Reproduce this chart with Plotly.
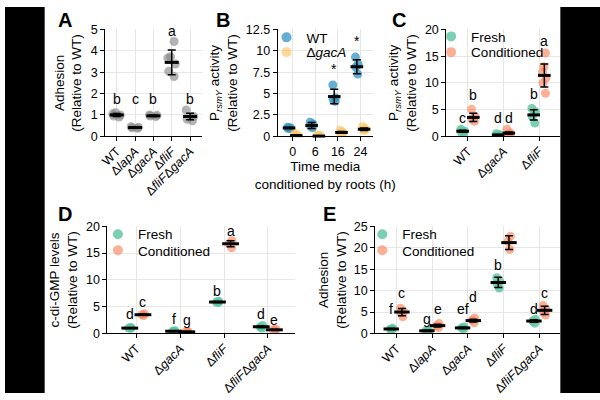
import plotly.graph_objects as go

# ---------------- data ----------------
A_labels = ["WT", "Δ<i>lapA</i>", "Δ<i>gacA</i>", "Δ<i>fliF</i>", "Δ<i>fliF</i>Δ<i>gacA</i>"]
A_points = [[1.1, 1.05, 1.0, 0.95, 0.9], [0.45, 0.42, 0.4, 0.38], [1.0, 0.98, 0.95, 0.92],
            [4.44, 3.72, 3.67, 3.38, 3.05, 2.8], [1.23, 0.93, 0.8, 0.73]]
A_mean = [1.0, 0.41, 0.96, 3.46, 0.93]
A_err = [0.07, 0.03, 0.03, 0.58, 0.15]
A_letters = ["b", "c", "b", "a", "b"]
A_letter_y = [1.76, 1.76, 1.76, 4.92, 1.76]

B_labels = ["0", "6", "16", "24"]
B_wt_points = [[1.05, 1.0, 0.95, 0.9], [1.65, 1.45, 1.2, 1.0], [6.0, 4.5, 4.3, 4.1], [9.27, 8.4, 8.1, 7.28]]
B_wt_mean = [0.98, 1.26, 4.65, 8.14]
B_wt_err = [0.06, 0.35, 0.85, 0.82]
B_gac_points = [[0.35, 0.15, 0.1, 0.05], [0.15, 0.1, 0.05, 0.02], [0.7, 0.5, 0.4, 0.35], [1.15, 0.9, 0.75, 0.7]]
B_gac_mean = [0.08, 0.03, 0.45, 0.83]
B_gac_err = [0.08, 0.03, 0.1, 0.15]
B_sig = ["", "", "*", "*"]
B_sig_y = [0, 0, 7.9, 11.1]

C_labels = ["WT", "Δ<i>gacA</i>", "Δ<i>fliF</i>"]
C_fresh_points = [[1.3, 1.0, 0.8, 0.6], [0.5, 0.3, 0.2, 0.15], [5.2, 4.6, 3.7, 2.5]]
C_fresh_mean = [0.95, 0.25, 4.0]
C_fresh_err = [0.2, 0.1, 0.95]
C_cond_points = [[5.05, 3.72, 3.24, 2.8], [1.3, 0.6, 0.4, 0.3], [15.6, 13.0, 12.0, 10.9, 10.0, 8.05]]
C_cond_mean = [3.54, 0.6, 11.4]
C_cond_err = [0.78, 0.2, 2.15]
C_fresh_letters = ["c", "d", "b"]
C_fresh_letter_y = [3.42, 3.42, 7.9]
C_cond_letters = ["b", "d", "a"]
C_cond_letter_y = [7.8, 3.42, 17.8]

D_labels = ["WT", "Δ<i>gacA</i>", "Δ<i>fliF</i>", "Δ<i>fliF</i>Δ<i>gacA</i>"]
D_fresh_points = [[1.1, 1.0, 0.95], [0.5, 0.4, 0.35], [6.0, 5.85, 5.75], [1.5, 1.2, 1.0]]
D_fresh_mean = [1.0, 0.42, 5.87, 1.25]
D_fresh_err = [0.05, 0.05, 0.1, 0.15]
D_cond_points = [[3.7, 3.5, 3.35], [0.35, 0.3, 0.25], [17.3, 16.8, 16.0], [0.8, 0.7, 0.55]]
D_cond_mean = [3.5, 0.3, 16.75, 0.68]
D_cond_err = [0.1, 0.05, 0.55, 0.08]
D_fresh_letters = ["d", "f", "b", "d"]
D_fresh_letter_y = [3.6, 2.7, 7.9, 3.6]
D_cond_letters = ["c", "g", "a", "e"]
D_cond_letter_y = [5.9, 2.5, 19.2, 2.5]

E_labels = ["WT", "Δ<i>lapA</i>", "Δ<i>gacA</i>", "Δ<i>fliF</i>", "Δ<i>fliF</i>Δ<i>gacA</i>"]
E_fresh_points = [[1.2, 1.0, 0.9], [0.8, 0.6, 0.5], [1.5, 1.3, 1.1], [13.0, 12.2, 11.5, 10.6], [3.3, 2.9, 2.4]]
E_fresh_mean = [1.05, 0.62, 1.3, 11.9, 2.9]
E_fresh_err = [0.12, 0.1, 0.15, 1.2, 0.3]
E_cond_points = [[5.9, 5.2, 4.8, 3.9], [2.3, 1.8, 1.4], [3.6, 3.1, 2.5], [22.7, 21.5, 19.6], [6.5, 5.6, 5.0, 4.3]]
E_cond_mean = [5.0, 1.83, 3.0, 21.2, 5.4]
E_cond_err = [0.85, 0.3, 0.3, 1.6, 0.95]
E_fresh_letters = ["f", "g", "ef", "b", "d"]
E_fresh_letter_y = [5.6, 3.4, 5.6, 15.9, 5.6]
E_cond_letters = ["c", "e", "d", "a", "c"]
E_cond_letter_y = [9.4, 5.6, 8.6, 25.3, 9.4]

# ---------------- styles ----------------
FONT = "Liberation Sans, Arial, sans-serif"
GRAY = "rgba(130,130,130,0.6)"
WT_C = "rgba(50,150,195,0.75)"
GAC_C = "rgba(251,196,100,0.65)"
FRESH_C = "rgba(90,196,160,0.8)"
COND_C = "rgba(250,135,95,0.65)"

fig = go.Figure()
annotations = []


def add_group(ax, positions, points, means, errs, color, width, jitter, msize=11):
    xa = "x" if ax == 1 else f"x{ax}"
    ya = "y" if ax == 1 else f"y{ax}"
    for p, pts in zip(positions, points):
        fig.add_trace(go.Box(
            x=[p] * len(pts), y=pts, xaxis=xa, yaxis=ya,
            boxpoints="all", jitter=jitter, pointpos=0, width=width,
            fillcolor="rgba(0,0,0,0)", line=dict(color="rgba(0,0,0,0)", width=0),
            whiskerwidth=0, marker=dict(color=color, size=9, line=dict(width=0)),
            showlegend=False, hoverinfo="y"))
    fig.add_trace(go.Scatter(
        x=positions, y=means, xaxis=xa, yaxis=ya, mode="markers",
        marker=dict(symbol="line-ew", size=msize, line=dict(width=3, color="black")),
        error_y=dict(type="data", array=errs, symmetric=True, color="black", thickness=1.5, width=4),
        cliponaxis=False, showlegend=False, hoverinfo="y"))


def add_letters(ax, positions, letters, ys):
    xa = "x" if ax == 1 else f"x{ax}"
    ya = "y" if ax == 1 else f"y{ax}"
    for p, t, yv in zip(positions, letters, ys):
        if t:
            annotations.append(dict(x=p, y=yv, xref=xa, yref=ya, text=t, showarrow=False,
                                    font=dict(size=14, color="black", family=FONT),
                                    xanchor="center", yanchor="middle"))


def legend_entry(name, color, legend):
    fig.add_trace(go.Scatter(x=[None], y=[None], mode="markers", name=name,
                             marker=dict(color=color, size=10), legend=legend, showlegend=True))


OFF = 0.15

# Panel A
posA = list(range(len(A_points)))
add_group(1, posA, A_points, A_mean, A_err, GRAY, 0.5, 1.0, msize=10)
add_letters(1, posA, A_letters, A_letter_y)

# Panel B
posB = list(range(len(B_labels)))
add_group(2, [i - 0.16 for i in posB], B_wt_points, B_wt_mean, B_wt_err, WT_C, 0.15, 1.0, msize=9)
add_group(2, [i + 0.16 for i in posB], B_gac_points, B_gac_mean, B_gac_err, GAC_C, 0.15, 1.0, msize=9)
add_letters(2, [i - 0.16 for i in posB], B_sig, B_sig_y)
legend_entry("WT", WT_C, "legend")
legend_entry("Δ<i>gacA</i>", GAC_C, "legend2")

# Panel C
posC = list(range(len(C_labels)))
add_group(3, [i - OFF for i in posC], C_fresh_points, C_fresh_mean, C_fresh_err, FRESH_C, 0.12, 1.0, msize=9)
add_group(3, [i + OFF for i in posC], C_cond_points, C_cond_mean, C_cond_err, COND_C, 0.12, 1.0, msize=9)
add_letters(3, [i - OFF for i in posC], C_fresh_letters, C_fresh_letter_y)
add_letters(3, [i + OFF for i in posC], C_cond_letters, C_cond_letter_y)
legend_entry("Fresh", FRESH_C, "legend3")
legend_entry("Conditioned", COND_C, "legend4")

# Panel D
posD = list(range(len(D_labels)))
add_group(4, [i - OFF for i in posD], D_fresh_points, D_fresh_mean, D_fresh_err, FRESH_C, 0.08, 1.0, msize=12)
add_group(4, [i + OFF for i in posD], D_cond_points, D_cond_mean, D_cond_err, COND_C, 0.08, 1.0, msize=12)
add_letters(4, [i - OFF for i in posD], D_fresh_letters, D_fresh_letter_y)
add_letters(4, [i + OFF for i in posD], D_cond_letters, D_cond_letter_y)
legend_entry("Fresh", FRESH_C, "legend5")
legend_entry("Conditioned", COND_C, "legend6")

# Panel E
posE = list(range(len(E_labels)))
add_group(5, [i - OFF for i in posE], E_fresh_points, E_fresh_mean, E_fresh_err, FRESH_C, 0.1, 1.0, msize=11)
add_group(5, [i + OFF for i in posE], E_cond_points, E_cond_mean, E_cond_err, COND_C, 0.1, 1.0, msize=11)
add_letters(5, [i - OFF for i in posE], E_fresh_letters, E_fresh_letter_y)
add_letters(5, [i + OFF for i in posE], E_cond_letters, E_cond_letter_y)
legend_entry("Fresh", FRESH_C, "legend7")
legend_entry("Conditioned", COND_C, "legend8")

# ---------------- axes ----------------
W, H = 600, 400


def xd(a, b):
    return [a / W, b / W]


def yd(top, bottom):
    return [1 - bottom / H, 1 - top / H]


axis_common = dict(showline=True, linecolor="black", linewidth=1, ticks="outside", ticklen=4,
                   tickcolor="black", showgrid=True, gridcolor="#e6e6e6", gridwidth=1,
                   zeroline=False, tickfont=dict(size=12.5, color="black", family=FONT))
ytitle_font = dict(size=13.5, color="black", family=FONT)

layout = dict(
    width=W, height=H, margin=dict(l=0, r=0, t=0, b=0),
    paper_bgcolor="white", plot_bgcolor="white", font=dict(family=FONT, color="black"),
    boxmode="overlay",
)

rot = dict(tickangle=-45, tickfont=dict(size=12.5, color="black", family=FONT), ticklabelstandoff=-2)

layout["xaxis"] = dict(axis_common, domain=xd(101, 199), range=[-0.63, 4.67], anchor="y",
                       tickvals=posA, ticktext=A_labels, **rot)
layout["yaxis"] = dict(axis_common, domain=yd(23.3, 134), range=[0, 5], anchor="x",
                       tickvals=[0, 1, 2, 3, 4, 5],
                       title=dict(text="Adhesion<br>(Relative to WT)", font=ytitle_font, standoff=5))
layout["xaxis2"] = dict(axis_common, domain=xd(275, 371), range=[-0.66, 3.55], anchor="y2",
                        tickvals=posB, ticktext=B_labels, tickangle=0,
                        title=dict(text="Time media<br>conditioned by roots (h)", font=ytitle_font, standoff=3))
layout["yaxis2"] = dict(axis_common, domain=yd(23.3, 134), range=[0, 12.5], anchor="x2",
                        tickvals=[0, 2.5, 5, 7.5, 10, 12.5], ticktext=["0", "2.5", "5", "7.5", "10", "12.5"],
                        title=dict(text="P<sub><i>rsmY</i></sub> activity<br>(Relative to WT)",
                                   font=ytitle_font, standoff=5))
layout["xaxis3"] = dict(axis_common, domain=xd(445, 560), range=[-0.61, 2.6], anchor="y3",
                        tickvals=posC, ticktext=C_labels, **rot)
layout["yaxis3"] = dict(axis_common, domain=yd(23.3, 134), range=[0, 20], anchor="x3",
                        tickvals=[0, 5, 10, 15, 20],
                        title=dict(text="P<sub><i>rsmY</i></sub> activity<br>(Relative to WT)",
                                   font=ytitle_font, standoff=5))
layout["xaxis4"] = dict(axis_common, domain=xd(103.3, 292), range=[-0.66, 3.61], anchor="y4",
                        tickvals=posD, ticktext=D_labels, **rot)
layout["yaxis4"] = dict(axis_common, domain=yd(227.3, 338.3), range=[0, 20], anchor="x4",
                        tickvals=[0, 5, 10, 15, 20],
                        title=dict(text="c-di-GMP levels<br>(Relative to WT)", font=ytitle_font, standoff=5))
layout["xaxis5"] = dict(axis_common, domain=xd(373.3, 560), range=[-0.6, 4.59], anchor="y5",
                        tickvals=posE, ticktext=E_labels, **rot)
layout["yaxis5"] = dict(axis_common, domain=yd(227.3, 338.3), range=[0, 25], anchor="x5",
                        tickvals=[0, 5, 10, 15, 20, 25],
                        title=dict(text="Adhesion<br>(Relative to WT)", font=ytitle_font, standoff=4))

# one legend per entry so each row sits where the reference puts it
leg_common = dict(font=dict(size=13.5, color="black", family=FONT), bgcolor="rgba(0,0,0,0)",
                  xanchor="left", yanchor="middle", itemwidth=30, tracegroupgap=0,
                  itemclick=False, itemdoubleclick=False)
legend_rows = [("legend", 286.7, 31.7), ("legend2", 286.7, 47.0),
               ("legend3", 452.7, 30.7), ("legend4", 452.7, 47.0),
               ("legend5", 116.7, 235.7), ("legend6", 116.7, 252.3),
               ("legend7", 383.3, 235.7), ("legend8", 383.3, 252.3)]
for name, mx, my in legend_rows:
    layout[name] = dict(leg_common, x=(mx - 23) / W, y=1 - my / H)

# panel letters
for letter, px, py in [("A", 61, 13), ("B", 220, 13), ("C", 397, 13), ("D", 61, 215), ("E", 327, 215)]:
    annotations.append(dict(x=px / W, y=1 - py / H, xref="paper", yref="paper", text=f"<b>{letter}</b>",
                            showarrow=False, font=dict(size=20, color="black", family=FONT),
                            xanchor="center", yanchor="middle"))

layout["annotations"] = annotations
layout["shapes"] = [
    dict(type="rect", xref="paper", yref="paper", x0=0, x1=40 / W, y0=0, y1=1,
         fillcolor="black", line=dict(width=0), layer="above"),
    dict(type="rect", xref="paper", yref="paper", x0=560 / W, x1=1, y0=0, y1=1,
         fillcolor="black", line=dict(width=0), layer="above"),
]

fig.update_layout(**layout)
fig.write_html("out.html", config={"displayModeBar": False},
               post_script="document.body.style.margin='0';document.body.style.overflow='hidden';")
